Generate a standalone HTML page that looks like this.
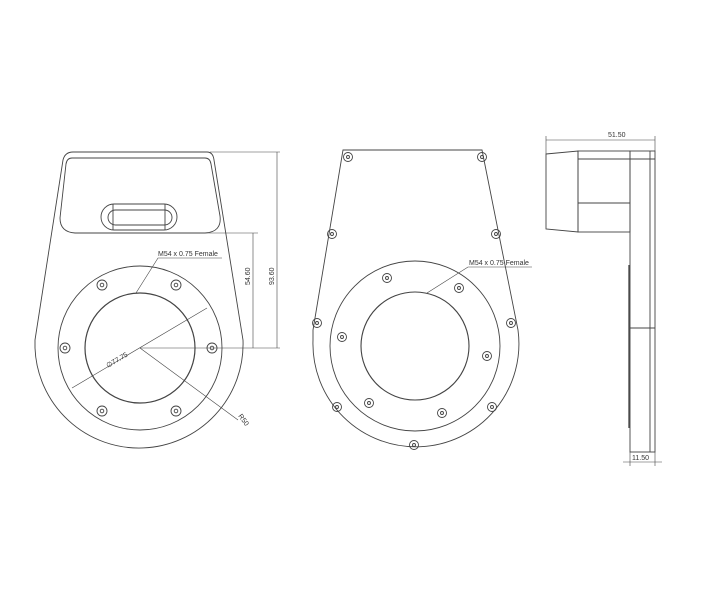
<!DOCTYPE html>
<html><head><style>html,body{margin:0;padding:0;background:#fff}svg{display:block}</style></head><body>
<svg width="720" height="600" viewBox="0 0 720 600" xmlns="http://www.w3.org/2000/svg" font-family="Liberation Sans, sans-serif" font-size="7" fill="none" stroke="#444" stroke-width="0.9">
<!-- LEFT VIEW -->
<path d="M35,340 L63,160 Q65,152 73,152 L207,152 Q213,152 214,160 L243,340 A104,104 0 0 1 35,348 Z"/>
<path d="M72,158 L205,158 Q210,158 211,164 L220,216 Q222,232 205,233 L75,233 Q60,232 60,218 L66,164 Q67,158 72,158 Z"/>
<rect x="101" y="204" width="76" height="26" rx="13"/>
<rect x="108" y="210" width="64" height="15" rx="7.5"/>
<line x1="113" y1="204" x2="113" y2="230"/><line x1="165" y1="204" x2="165" y2="230"/>
<circle cx="140" cy="348" r="82"/>
<circle cx="140" cy="348" r="55" stroke-width="1.2"/>
<g>
<circle cx="102" cy="285" r="5"/><circle cx="102" cy="285" r="1.8"/>
<circle cx="176" cy="285" r="5"/><circle cx="176" cy="285" r="1.8"/>
<circle cx="65" cy="348" r="5"/><circle cx="65" cy="348" r="1.8"/>
<circle cx="212" cy="348" r="5"/><circle cx="212" cy="348" r="1.8"/>
<circle cx="102" cy="411" r="5"/><circle cx="102" cy="411" r="1.8"/>
<circle cx="176" cy="411" r="5"/><circle cx="176" cy="411" r="1.8"/>
</g>
<g stroke-width="0.6">
<line x1="210" y1="152" x2="280" y2="152"/>
<line x1="205" y1="233" x2="258" y2="233"/>
<line x1="140" y1="348" x2="280" y2="348"/>
<line x1="253" y1="233" x2="253" y2="348"/>
<line x1="277" y1="152" x2="277" y2="348"/>
<polyline points="136,293 158,258 222,258"/>
<line x1="72" y1="388" x2="207" y2="308"/>
<line x1="140" y1="348" x2="238" y2="420"/>
</g>
<g fill="#333" stroke="none">
<text x="158" y="256">M54 x 0.75 Female</text>
<text transform="translate(250,285) rotate(-90)">54.60</text>
<text transform="translate(274,285) rotate(-90)">93.60</text>
<text transform="translate(108,368) rotate(-31)">∅77.75</text>
<text transform="translate(238,416) rotate(54)">R50</text>
</g>
<!-- MIDDLE VIEW -->
<path d="M313,330 L343,150 L482,150 L518,330 A103,103 0 1 1 313,340 Z"/>
<circle cx="415" cy="346" r="85"/>
<circle cx="415" cy="346" r="54" stroke-width="1.1"/>
<g>
<circle cx="348" cy="157" r="4.5"/><circle cx="348" cy="157" r="1.5"/>
<circle cx="482" cy="157" r="4.5"/><circle cx="482" cy="157" r="1.5"/>
<circle cx="332" cy="234" r="4.5"/><circle cx="332" cy="234" r="1.5"/>
<circle cx="496" cy="234" r="4.5"/><circle cx="496" cy="234" r="1.5"/>
<circle cx="317" cy="323" r="4.5"/><circle cx="317" cy="323" r="1.5"/>
<circle cx="511" cy="323" r="4.5"/><circle cx="511" cy="323" r="1.5"/>
<circle cx="337" cy="407" r="4.5"/><circle cx="337" cy="407" r="1.5"/>
<circle cx="492" cy="407" r="4.5"/><circle cx="492" cy="407" r="1.5"/>
<circle cx="414" cy="445" r="4.5"/><circle cx="414" cy="445" r="1.5"/>
<circle cx="387" cy="278" r="4.5"/><circle cx="387" cy="278" r="1.5"/>
<circle cx="459" cy="288" r="4.5"/><circle cx="459" cy="288" r="1.5"/>
<circle cx="342" cy="337" r="4.5"/><circle cx="342" cy="337" r="1.5"/>
<circle cx="487" cy="356" r="4.5"/><circle cx="487" cy="356" r="1.5"/>
<circle cx="369" cy="403" r="4.5"/><circle cx="369" cy="403" r="1.5"/>
<circle cx="442" cy="413" r="4.5"/><circle cx="442" cy="413" r="1.5"/>
</g>
<polyline stroke-width="0.6" points="427,293 468,267 532,267"/>
<text x="469" y="265" fill="#333" stroke="none">M54 x 0.75 Female</text>
<!-- RIGHT VIEW -->
<g>
<path d="M546,154 L578,151 L578,232 L546,229 Z"/>
<rect x="578" y="151" width="52" height="81"/>
<line x1="578" y1="203" x2="630" y2="203"/>
<line x1="578" y1="159" x2="655" y2="159"/>
<rect x="630" y="151" width="25" height="301"/>
<line x1="650" y1="151" x2="650" y2="452"/>
<line x1="630" y1="328" x2="655" y2="328"/>
<line x1="629" y1="265" x2="629" y2="428" stroke-width="1.3"/>
</g>
<g stroke-width="0.6">
<line x1="546" y1="140" x2="655" y2="140"/>
<line x1="546" y1="136" x2="546" y2="154"/>
<line x1="655" y1="136" x2="655" y2="151"/>
<line x1="623" y1="462" x2="662" y2="462"/>
<line x1="630" y1="452" x2="630" y2="466"/>
<line x1="655" y1="452" x2="655" y2="466"/>
</g>
<g fill="#333" stroke="none">
<text x="608" y="137">51.50</text>
<text x="632" y="460">11.50</text>
</g>
</svg>
</body></html>
